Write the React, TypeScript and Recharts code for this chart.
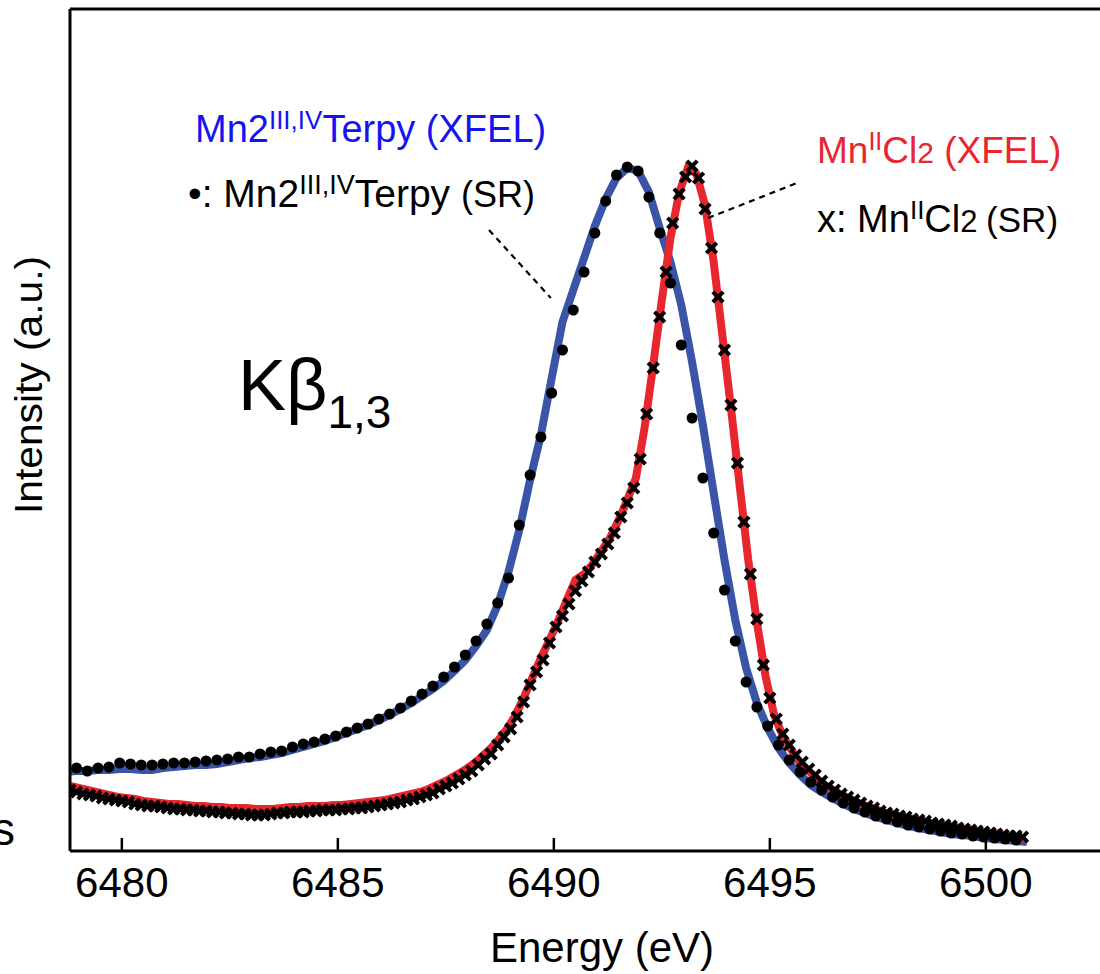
import { Line, LineChart, ReferenceLine, XAxis, YAxis } from "recharts";

// Mn2(III,IV) terpy, XFEL spectrum (energy grid: start + step * i)
const TERPY_XFEL_START = 6478.7;
const TERPY_XFEL_STEP = 0.25;
const terpyXfel = [
  79, 80, 80, 81, 81, 82, 82, 81, 81, 83, 84, 85, 86, 86, 87, 89, 91, 93, 94, 96,
  98, 101, 104, 107, 110, 114, 118, 122, 126, 131, 136, 142, 148, 155, 162, 170, 180, 191, 205, 221,
  246, 279, 321, 371, 416, 473, 529, 561, 593, 625, 652, 673, 683, 680, 659, 623, 589, 546, 489, 426,
  358, 291, 231, 183, 148, 123, 103, 88, 76, 66, 59, 53, 47, 42, 38, 34, 31, 28, 25, 23,
  21, 19, 17, 16, 15, 13, 12, 11, 10, 9,
];

// Mn2(III,IV) terpy, synchrotron (SR) points
const TERPY_SR_START = 6478.95;
const TERPY_SR_STEP = 0.25;
const terpySr = [
  83, 80, 83, 84, 88, 87, 86, 86, 87, 88, 88, 89, 90, 91, 92, 94, 94, 97, 99, 100,
  104, 107, 109, 112, 115, 119, 123, 127, 132, 137, 143, 150, 157, 165, 174, 184, 196, 210, 227, 248,
  273, 326, 376, 414, 458, 501, 541, 579, 618, 650, 676, 684, 680, 654, 618, 568, 506, 433, 373, 318,
  261, 210, 169, 144, 125, 106, 91, 79, 69, 61, 54, 48, 43, 39, 35, 32, 29, 26, 24, 22,
  20, 18, 17, 15, 14, 13, 12, 11,
];

// MnCl2, XFEL spectrum
const MNCL2_XFEL_START = 6478.7;
const MNCL2_XFEL_STEP = 0.2;
const mncl2Xfel = [
  66, 64, 62, 60, 58, 56, 54, 53, 52, 50, 49, 48, 47, 47, 46, 45, 45, 44, 44, 43,
  43, 43, 42, 42, 42, 43, 44, 44, 45, 45, 45, 46, 46, 47, 48, 49, 50, 51, 53, 55,
  57, 59, 62, 66, 70, 75, 80, 86, 93, 101, 110, 121, 135, 153, 173, 193, 211, 230, 251, 271,
  277, 287, 300, 313, 331, 351, 373, 423, 486, 551, 613, 658, 683, 677, 646, 589, 516, 443, 366, 291,
  229, 175, 136, 115, 101, 88, 80, 72, 65, 60, 55, 51, 47, 44, 41, 38, 36, 34, 32, 30,
  28, 27, 25, 24, 22, 21, 19, 18, 17, 15, 14, 12,
];

// MnCl2, synchrotron (SR) points
const MNCL2_SR_START = 6478.8;
const MNCL2_SR_STEP = 0.15;
const mncl2Sr = [
  61, 59, 57, 56, 55, 53, 52, 51, 50, 49, 47, 46, 45, 45, 44, 43, 42, 42, 41, 41,
  40, 40, 39, 39, 38, 38, 37, 37, 36, 36, 36, 37, 38, 38, 39, 39, 39, 40, 40, 41,
  41, 41, 42, 42, 43, 43, 44, 45, 46, 47, 48, 49, 51, 52, 54, 56, 58, 62, 65, 68,
  72, 76, 80, 86, 92, 97, 106, 114, 122, 134, 149, 166, 179, 191, 208, 224, 235, 247, 260, 270,
  279, 289, 297, 307, 318, 334, 348, 363, 392, 437, 483, 534, 579, 628, 657, 674, 685, 673, 642, 603,
  554, 501, 446, 388, 329, 277, 232, 186, 153, 132, 117, 106, 96, 89, 82, 76, 70, 65, 61, 57,
  54, 51, 48, 45, 43, 40, 38, 37, 35, 34, 32, 31, 30, 28, 27, 26, 25, 23, 22, 21,
  20, 19, 18, 17, 16, 15, 15, 14,
];

const ENERGY_TICKS = [6480, 6485, 6490, 6495, 6500];
const X_DOMAIN: [number, number] = [6478.8, 6503.337];
const Y_DOMAIN: [number, number] = [0, 842];

const toPoints = (start: number, step: number, values: number[]) =>
  values.map((v, i) => ({ energy: +(start + step * i).toFixed(3), intensity: v }));

const BLUE_LINE = "#3a55a8";
const RED_LINE = "#e8262e";
const FONT = "'Liberation Sans', Arial, Helvetica, sans-serif";

const EnergyTick = (props: any) => {
  const { x, y, payload } = props;
  return (
    <g>
      <line x1={x} x2={x} y1={y} y2={y - 13} stroke="#000" strokeWidth={2.5} />
      <text x={x} y={y + 46} textAnchor="middle" fontSize={42} fontFamily={FONT} fill="#000">
        {payload.value}
      </text>
    </g>
  );
};

const roundDot = (props: any) => {
  const { cx, cy, index } = props;
  if (cx == null || cy == null) return <g key={`d-${index}`} />;
  return <circle key={`d-${index}`} cx={cx} cy={cy} r={5.5} fill="#000" />;
};

const crossDot = (props: any) => {
  const { cx, cy, index } = props;
  if (cx == null || cy == null) return <g key={`x-${index}`} />;
  const s = 5.2;
  return (
    <g key={`x-${index}`} stroke="#000" strokeWidth={4}>
      <line x1={cx - s} y1={cy - s} x2={cx + s} y2={cy + s} />
      <line x1={cx - s} y1={cy + s} x2={cx + s} y2={cy - s} />
    </g>
  );
};

export default function App() {
  return (
    <div style={{ position: "relative", width: 1100, height: 974, overflow: "hidden", background: "#fff" }}>
      <style>{`body{margin:0}`}</style>
      <LineChart width={1130} height={974} margin={{ top: 9, right: 0, bottom: 122, left: 69 }}>
        <XAxis
          dataKey="energy"
          type="number"
          domain={X_DOMAIN}
          allowDataOverflow
          ticks={ENERGY_TICKS}
          interval={0}
          height={1}
          tickSize={0}
          tickMargin={0}
          tickLine={false}
          tick={<EnergyTick />}
          axisLine={{ stroke: "#000", strokeWidth: 3 }}
        />
        <YAxis
          type="number"
          domain={Y_DOMAIN}
          allowDataOverflow
          width={1}
          tick={false}
          tickLine={false}
          axisLine={{ stroke: "#000", strokeWidth: 3 }}
        />
        <ReferenceLine y={842} stroke="#000" strokeWidth={3} />
        <Line
          data={toPoints(TERPY_XFEL_START, TERPY_XFEL_STEP, terpyXfel)}
          dataKey="intensity"
          type="linear"
          stroke={BLUE_LINE}
          strokeWidth={8}
          dot={false}
          isAnimationActive={false}
        />
        <Line
          data={toPoints(MNCL2_XFEL_START, MNCL2_XFEL_STEP, mncl2Xfel)}
          dataKey="intensity"
          type="linear"
          stroke={RED_LINE}
          strokeWidth={8}
          dot={false}
          isAnimationActive={false}
        />
        <Line
          data={toPoints(TERPY_SR_START, TERPY_SR_STEP, terpySr)}
          dataKey="intensity"
          stroke="none"
          dot={roundDot}
          activeDot={false}
          isAnimationActive={false}
        />
        <Line
          data={toPoints(MNCL2_SR_START, MNCL2_SR_STEP, mncl2Sr)}
          dataKey="intensity"
          stroke="none"
          dot={crossDot}
          activeDot={false}
          isAnimationActive={false}
        />
        <ReferenceLine
          segment={[
            { x: 6488.5, y: 621 },
            { x: 6489.93, y: 553 },
          ]}
          stroke="#000"
          strokeWidth={2.2}
          strokeDasharray="6 5"
        />
        <ReferenceLine
          segment={[
            { x: 6493.57, y: 633 },
            { x: 6495.63, y: 668 },
          ]}
          stroke="#000"
          strokeWidth={2.2}
          strokeDasharray="6 5"
        />
      </LineChart>

      <svg
        width={1100}
        height={974}
        style={{ position: "absolute", left: 0, top: 0, pointerEvents: "none" }}
        fontFamily={FONT}
      >
        <text x={195} y={142} fontSize={38} fill="#1414f0">
          Mn2<tspan fontSize={26} dy={-13}>III,IV</tspan>
          <tspan dy={13}>Terpy (XFEL)</tspan>
        </text>
        <text x={188} y={207} fontSize={39} fill="#000">
          •: Mn2<tspan fontSize={27} dy={-13}>III,IV</tspan>
          <tspan dy={13}>Terpy </tspan>
          <tspan fontSize={36}>(SR)</tspan>
        </text>
        <text x={817} y={163} fontSize={37} fill={RED_LINE}>
          Mn<tspan fontSize={25} dy={-13}>II</tspan>
          <tspan dy={13}>Cl</tspan>
          <tspan fontSize={30}>2</tspan> (XFEL)
        </text>
        <text x={817} y={232} fontSize={38} fill="#000">
          x: Mn<tspan fontSize={26} dy={-13}>II</tspan>
          <tspan dy={13}>Cl</tspan>
          <tspan fontSize={31}>2 </tspan>
          <tspan fontSize={35}>(SR)</tspan>
        </text>
        <text x={238} y={410} fontSize={72} fill="#000">
          Kβ<tspan fontSize={46} dy={18}>1,3</tspan>
        </text>
        <text
          transform="translate(42,385) rotate(-90)"
          textAnchor="middle"
          fontSize={38}
          textLength={258}
          lengthAdjust="spacingAndGlyphs"
          fill="#000"
        >
          Intensity (a.u.)
        </text>
        <text x={602} y={962} textAnchor="middle" fontSize={42} fill="#000">
          Energy (eV)
        </text>
        <text x={15} y={845} textAnchor="end" fontSize={46} fill="#000">
          s
        </text>
      </svg>
    </div>
  );
}
